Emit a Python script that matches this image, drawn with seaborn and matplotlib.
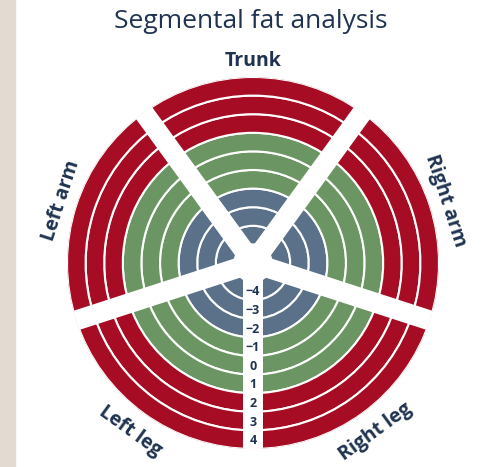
import numpy as np
import pandas as pd
import matplotlib
matplotlib.use("Agg")
import matplotlib.pyplot as plt
from matplotlib.patches import Rectangle
import seaborn as sns

# segments clockwise starting at the top
segments = ["Trunk", "Right arm", "Right leg", "Left leg", "Left arm"]
levels = [-4, -3, -2, -1, 0, 1, 2, 3, 4]
level_colors = ["#5b7189", "#5b7189", "#5b7189",
                "#6b9563", "#6b9563", "#6b9563",
                "#a60c24", "#a60c24", "#a60c24"]
navy = "#1f3350"

sns.set_theme(style="white")
plt.rcParams['font.family'] = ['Open Sans', 'DejaVu Sans']

rows = []
for i, seg in enumerate(segments):
    for j, lv in enumerate(levels):
        rows.append({"segment": seg, "theta": np.deg2rad(72 * i),
                     "bottom": j + 1, "color": level_colors[j]})
df = pd.DataFrame(rows)

W, H = 485, 467
fig = plt.figure(figsize=(W / 100, H / 100), dpi=100)
fig.patches.append(Rectangle((0, 0), 15 / W, 1, transform=fig.transFigure,
                             color="#e3dad1", zorder=0))

cx, cy, R = 253, 263, 186
ax = fig.add_axes([(cx - R) / W, (H - cy - R) / H, 2 * R / W, 2 * R / H],
                  projection="polar")
ax.set_theta_zero_location("N")
ax.set_theta_direction(-1)

ax.bar(df["theta"], 1, bottom=df["bottom"], width=2 * np.pi / 5,
       color=df["color"], edgecolor="white", linewidth=1.5, align="center")

# white gaps between segments
for i in range(5):
    a = np.deg2rad(72 * i + 36)
    ax.plot([a, a], [0, 10.5], color="white", lw=14.4,
            solid_capstyle="butt", zorder=3)

ax.set_ylim(0, 10)
ax.set_axis_off()

# level labels in the bottom gap
for j, lv in enumerate(levels):
    txt = str(lv).replace("-", "\u2212")
    ax.text(np.pi, j + 1.55, txt, ha="center", va="center", fontsize=9,
            fontweight="bold", color=navy, zorder=4)

# segment labels
for i, seg in enumerate(segments):
    t = 72 * i
    rot = -t
    while rot <= -90:
        rot += 180
    r = 10.85 if i in (0, 1, 4) else 11.2
    ax.text(np.deg2rad(t), r, seg, rotation=rot, rotation_mode="anchor",
            ha="center", va="center", fontsize=14, fontweight="bold",
            color=navy)

fig.text(251 / W, 1 - 28 / H, "Segmental fat analysis", ha="center",
         va="baseline", fontsize=19, color=navy)

fig.savefig("out.png", dpi=100)
